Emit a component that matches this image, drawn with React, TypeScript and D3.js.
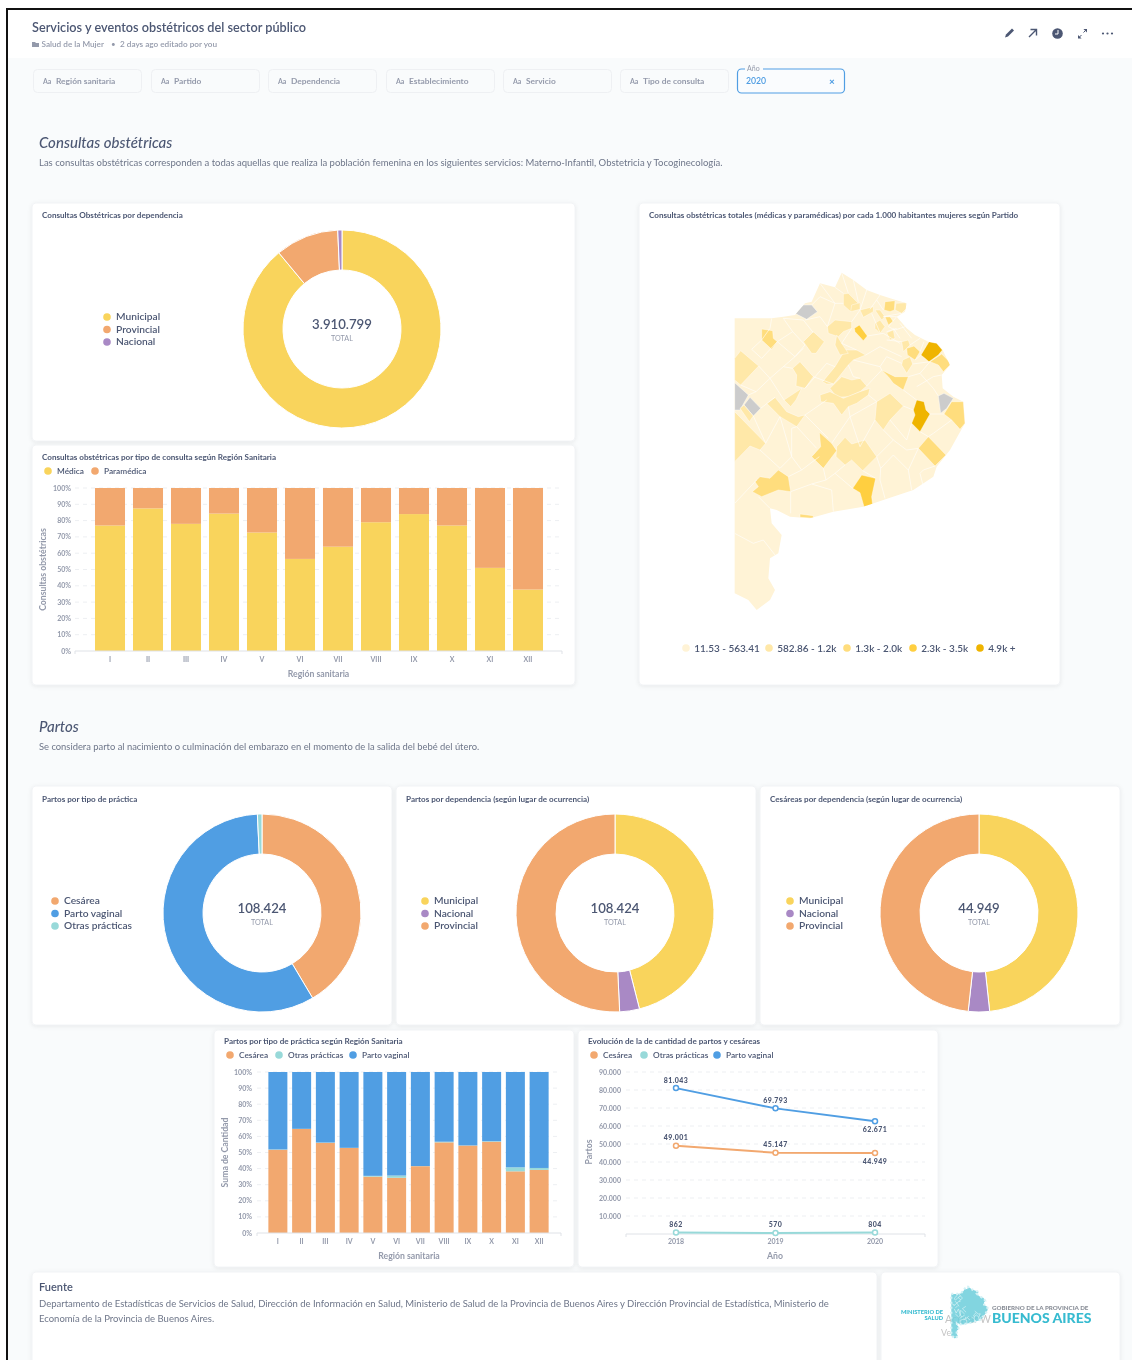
import React from "react";
import * as d3 from "d3";

const FONT = "Lato, 'Open Sans', sans-serif";
const TXT = "#4C5773";
const LIGHT = "#949AAB";
const YEL = "#F9D45C", ORA = "#F2A86F", PUR = "#A989C5", BLU = "#509EE3", TEA = "#98D9D9";
const fmt = d3.formatLocale({ thousands: ".", grouping: [3], decimal: ",", currency: ["", ""] }).format(",d");

// Data
const filterLabels = ["Región sanitaria", "Partido", "Dependencia", "Establecimiento", "Servicio", "Tipo de consulta"];
const regions = ["I", "II", "III", "IV", "V", "VI", "VII", "VIII", "IX", "X", "XI", "XII"];
const pctTicks = d3.range(0, 101, 10);
const medica = [77, 87.5, 78, 84.3, 72.7, 56.5, 64, 79, 84, 77, 51, 37.7];
const cesareaPct = [51.7, 64.6, 56, 52.8, 35, 34.3, 41.5, 56.3, 54.3, 56.7, 38.3, 39.2];
const otrasPct = [0.2, 0.1, 0.2, 0.1, 0.5, 1.4, 0.1, 0.4, 0.1, 0.3, 2.5, 1.2];

const consultasNames = ["Municipal", "Provincial", "Nacional"];
const consultasValues = [3480000, 404000, 26799];
const consultasColors = [YEL, ORA, PUR];
const partosNames = ["Cesárea", "Parto vaginal", "Otras prácticas"];
const partosValues = [44949, 62671, 804];
const partosColors = [ORA, BLU, TEA];
const depNames = ["Municipal", "Nacional", "Provincial"];
const depValues = [49900, 3500, 55024];
const cesDepValues = [21700, 1560, 21689];
const depColors = [YEL, PUR, ORA];

const years = [2018, 2019, 2020];
const lineCesarea = [49001, 45147, 44949];
const lineOtras = [862, 570, 804];
const lineVaginal = [81043, 69793, 62671];
const lineTicks = d3.range(10000, 90001, 10000);

const mapLegend = ["11.53 - 563.41", "582.86 - 1.2k", "1.3k - 2.0k", "2.3k - 3.5k", "4.9k +"];
const mapColors = ["#FFF3D6", "#FFE8A8", "#FFDD7D", "#FFCF40", "#EFB400"];
const GREY = "#CCCCCC";

const provinceOutline = [[44,175],[155,175],[190,170],[225,165],[255,130],[275,125],[300,70],[345,82],[365,38],[400,60],[440,90],[480,105],[520,118],[560,130],[555,155],[530,170],[560,205],[585,225],[625,245],[650,250],[668,270],[675,285],[690,315],[665,345],[668,385],[700,410],[730,425],[735,490],[715,525],[690,570],[650,620],[640,650],[580,690],[490,720],[430,740],[340,755],[270,775],[210,770],[170,750],[150,745],[155,790],[185,825],[175,880],[150,895],[145,955],[165,990],[150,1020],[110,1050],[85,1020],[44,1000]];
const mapGrey = [
  [[225,160],[250,135],[275,135],[292,155],[260,178]],
  [[44,368],[85,405],[60,450],[44,450]],
  [[72,435],[90,412],[122,445],[100,468]],
  [[655,408],[672,400],[700,415],[680,445],[662,460]],
];
const mapClass2 = [
  [[44,295],[62,272],[116,318],[62,375],[44,360]],
  [[44,455],[137,550],[120,570],[90,558],[44,605]],
  [[60,445],[72,435],[100,468],[88,485]],
  [[250,245],[280,215],[313,245],[288,280],[275,280]],
  [[322,200],[345,180],[395,185],[395,205],[370,215],[355,230],[325,220]],
  [[218,325],[240,305],[280,350],[255,385],[228,378],[230,345]],
  [[192,420],[245,385],[228,420],[212,440]],
  [[140,430],[165,412],[200,455],[235,470],[255,465],[230,500],[180,470]],
  [[308,365],[345,320],[375,270],[410,270],[437,285],[400,300],[385,315],[340,372],[320,372]],
  [[350,225],[365,250],[385,280],[360,285],[345,255]],
  [[330,385],[365,350],[395,360],[420,355],[440,378],[420,395],[385,410],[350,412]],
  [[300,405],[330,395],[370,415],[420,395],[450,385],[445,405],[410,430],[385,440],[365,465],[340,430],[302,425]],
  [[350,560],[375,532],[395,552],[435,540],[470,590],[428,632],[395,600],[375,615],[348,590]],
  [[470,425],[510,400],[550,438],[510,480],[490,510],[465,480]],
  [[370,102],[385,100],[415,130],[392,155],[370,135]],
  [[395,135],[420,128],[420,148],[392,155]],
  [[528,130],[558,128],[560,145],[545,160],[525,150]],
  [[420,150],[460,140],[460,155],[430,172]],
  [[465,150],[480,150],[495,170],[485,180]],
  [[465,190],[480,180],[495,200],[480,220],[465,205]],
  [[500,218],[520,210],[525,235],[510,240]],
  [[545,245],[565,240],[570,255],[550,275]],
  [[548,300],[570,290],[578,312],[560,340],[545,315]],
];
const mapClass3 = [
  [[125,207],[158,212],[160,235],[172,245],[155,268],[125,240]],
  [[298,517],[335,550],[350,572],[310,625],[275,590],[302,560]],
  [[595,565],[625,530],[678,585],[645,618]],
  [[672,462],[695,425],[730,425],[735,490],[720,508],[695,480]],
  [[485,330],[525,350],[565,350],[550,390],[520,370],[505,350]],
  [[630,305],[665,282],[688,305],[690,315],[670,335],[655,315]],
  [[560,265],[582,258],[600,275],[585,300],[562,285]],
  [[105,665],[120,650],[150,655],[175,630],[205,650],[212,695],[175,690],[125,710],[97,695],[115,680]],
  [[495,125],[525,122],[523,150],[510,155],[492,150]],
  [[495,170],[510,170],[520,185],[505,195]],
  [[240,762],[280,767],[280,775],[240,772]],
];
const mapClass4 = [
  [[398,685],[425,645],[467,655],[455,710],[458,735],[432,740],[420,698]],
  [[403,205],[418,195],[442,228],[430,242],[405,215]],
];
const mapClass5 = [
  [[603,285],[627,245],[650,250],[667,270],[655,285],[627,305],[615,295]],
  [[590,420],[612,425],[618,450],[630,462],[600,515],[575,490],[585,465],[580,450]],
];
const mapBorders = [
  [[155,175],[150,205],[125,240],[95,268],[125,295],[172,245]],[[172,245],[218,215],[190,175]],[[218,215],[255,255],[225,290],[172,245]],
  [[116,318],[150,355],[108,395],[62,375]],[[150,355],[190,320],[225,290]],[[190,320],[218,325]],[[150,355],[192,420]],
  [[108,395],[85,405]],[[122,445],[165,412]],[[100,468],[137,550]],[[137,550],[180,470]],[[120,570],[180,625],[215,590],[180,470]],
  [[215,590],[215,505],[230,500],[290,565]],[[215,590],[245,630],[205,650]],[[245,630],[298,590]],[[212,695],[275,672],[318,660],[310,625]],
  [[212,695],[212,760]],[[275,672],[335,690],[340,755]],[[318,660],[345,640],[398,685]],[[345,640],[375,615]],[[428,632],[467,655]],
  [[470,590],[520,540],[560,570],[595,565]],[[520,540],[490,510]],[[470,590],[482,625],[520,585],[565,630],[575,690]],[[482,625],[480,660],[495,715]],
  [[565,630],[595,565]],[[600,640],[610,680]],[[645,618],[610,630],[600,640]],
  [[255,465],[320,420]],[[255,465],[325,535]],[[335,550],[390,470],[385,440]],[[390,470],[420,560]],[[445,405],[470,425]],[[390,470],[470,425]],[[465,480],[420,560]],
  [[550,438],[580,450]],[[510,480],[560,540],[575,490]],[[600,515],[625,530]],[[630,462],[672,462]],[[695,480],[640,520],[625,530]],
  [[255,385],[320,310],[345,320]],[[280,350],[340,372]],[[225,290],[250,265]],[[190,175],[250,180],[280,218]],[[255,180],[300,170],[322,200]],
  [[275,135],[300,110],[345,130],[370,130]],[[300,70],[345,130]],[[345,82],[370,100]],[[365,38],[385,100]],[[400,60],[415,125]],[[440,90],[420,150]],[[480,105],[450,148]],[[345,130],[322,200]],
  [[395,185],[420,150]],[[395,205],[365,250],[410,270]],[[442,228],[490,220],[540,250]],[[437,285],[480,260],[545,290]],[[385,315],[400,350],[420,355]],[[400,300],[480,320],[485,330]],[[440,378],[485,330]],
  [[565,350],[600,340],[630,305]],[[550,390],[590,420]],[[600,340],[640,385],[655,408]],[[590,380],[640,350],[665,345]],[[545,310],[500,290],[480,320]],
  [[44,730],[110,660]],[[44,820],[100,850],[130,840],[165,885]],[[115,710],[150,745]],[[490,170],[530,170]],[[500,215],[530,205]],[[520,205],[540,235]],[[540,190],[575,235]],[[470,120],[490,150]],[[455,160],[480,218]],
  [[530,170],[505,200],[525,210],[555,200]],[[500,240],[545,245]],[[570,255],[600,235]],[[600,275],[612,245]],[[585,300],[603,285]],[[578,312],[630,305]],[[545,160],[490,170]],
];

const mx = d3.scaleLinear().domain([0, 780]).range([720, 980]);
const my = d3.scaleLinear().domain([0, 1080]).range([260, 620]);
const mapLine = d3.line<number[]>().x((d) => mx(d[0])).y((d) => my(d[1]));
const closed = (p: number[][]) => mapLine(p) + "Z";

const T = (p: any) => <text fontFamily={FONT} fill={TXT} {...p} />;

function Card({ x, y, w, h }: any) {
  return <rect x={x} y={y} width={w} height={h} rx={4} fill="#fff" stroke="#F2F4F6" style={{ filter: "drop-shadow(0 1px 2px rgba(0,0,0,.07))" }} />;
}

function Legend({ items, x, y, dy = 12.5 }: any) {
  return <g>{items.map((it: any, i: number) => (
    <g key={it.n}>
      <circle cx={x} cy={y + i * dy} r={3.8} fill={it.c} />
      <T x={x + 9} y={y + i * dy + 3.2} fontSize={10.2} fontWeight={600}>{it.n}</T>
    </g>))}</g>;
}

function HLegend({ items, y }: any) {
  return <g>{items.map((it: any) => (
    <g key={it.n}>
      <circle cx={it.x} cy={y} r={3.8} fill={it.c} />
      <T x={it.x + 9} y={y + 3} fontSize={8.3} fontWeight={600}>{it.n}</T>
    </g>))}</g>;
}

function Donut({ cx, cy, values, colors, total, R, r }: any) {
  const pie = d3.pie<number>().sort(null)(values);
  const arc = d3.arc<any>().innerRadius(r).outerRadius(R);
  return <g transform={`translate(${cx},${cy})`}>
    {pie.map((d, i) => <path key={i} d={arc(d) as string} fill={colors[i]} stroke="#fff" strokeWidth={1} />)}
    <T textAnchor="middle" y={0} fontSize={13.2} fontWeight={600}>{fmt(total)}</T>
    <T textAnchor="middle" y={11.5} fontSize={7.2} fill={LIGHT}>TOTAL</T>
  </g>;
}

function StackedBars({ series, colors, xr, top, bottom, axis, tickX, title, xLabelY, labelX, pad }: any) {
  const x = d3.scaleBand<string>().domain(regions).range(xr).paddingInner(pad).paddingOuter(pad / 2);
  const y = d3.scaleLinear().domain([0, 100]).range([bottom, top]);
  const rows = regions.map((r, i) => { const o: any = { r }; series.forEach((s: number[], k: number) => (o[k] = s[i])); return o; });
  const stack = d3.stack<any>().keys(series.map((_: any, k: number) => String(k)))(rows);
  return <g>
    {pctTicks.map((t) => <g key={t}>
      {t > 0 && <line x1={axis[0]} x2={axis[1]} y1={y(t)} y2={y(t)} stroke="#EDEFF2" strokeDasharray="4 4" />}
      <T x={tickX} y={y(t) + 2.5} textAnchor="end" fontSize={7} fill={LIGHT} fontWeight={700}>{t}%</T>
    </g>)}
    {stack.map((s, k) => s.map((d, i) => (
      <rect key={k + "-" + i} x={x(regions[i])} width={x.bandwidth()} y={y(d[1])} height={Math.max(0, y(d[0]) - y(d[1]))} fill={colors[k]} />
    )))}
    <path d={`M${axis[0]},${bottom + 3}V${bottom}H${axis[1]}V${bottom + 3}`} fill="none" stroke="#DFE2E7" />
    {regions.map((r) => <T key={r} x={x(r)! + x.bandwidth() / 2} y={bottom + 10.5} textAnchor="middle" fontSize={7} fill={LIGHT} fontWeight={700}>{r}</T>)}
    <T x={(axis[0] + axis[1]) / 2} y={xLabelY} textAnchor="middle" fontSize={8.7} fill={LIGHT} fontWeight={700}>Región sanitaria</T>
    <T transform={`translate(${labelX},${(top + bottom) / 2}) rotate(-90)`} textAnchor="middle" fontSize={8.7} fill={LIGHT} fontWeight={700}>{title}</T>
  </g>;
}

function LineChart() {
  const x = d3.scalePoint<number>().domain(years).range([676, 875]);
  const y = d3.scaleLinear().domain([0, 90000]).range([1234, 1072]);
  const line = d3.line<number>().x((_, i) => x(years[i])!).y((d) => y(d));
  const series = [
    { v: lineOtras, c: TEA, below: [false, false, false] },
    { v: lineCesarea, c: ORA, below: [false, false, true] },
    { v: lineVaginal, c: BLU, below: [false, false, true] },
  ];
  return <g>
    {lineTicks.map((t) => <g key={t}>
      <line x1={626} x2={925} y1={y(t)} y2={y(t)} stroke="#EDEFF2" strokeDasharray="4 4" />
      <T x={621} y={y(t) + 2.5} textAnchor="end" fontSize={7} fill={LIGHT} fontWeight={700}>{fmt(t)}</T>
    </g>)}
    <path d="M626,1237V1234H925V1237" fill="none" stroke="#DFE2E7" />
    {series.map((s, k) => <g key={k}>
      <path d={line(s.v) as string} fill="none" stroke={s.c} strokeWidth={2} />
      {s.v.map((v, i) => <g key={i}>
        <circle cx={x(years[i])} cy={y(v)} r={2.5} fill="#fff" stroke={s.c} strokeWidth={1.5} />
        <T x={x(years[i])} y={y(v) + (s.below[i] ? 11 : -5.5)} textAnchor="middle" fontSize={7} fontWeight={900} letterSpacing={0.4} stroke="#fff" strokeWidth={2} paintOrder="stroke">{fmt(v)}</T>
      </g>)}
    </g>)}
    {years.map((yr) => <T key={yr} x={x(yr)} y={1243.5} textAnchor="middle" fontSize={7} fill={LIGHT} fontWeight={700}>{yr}</T>)}
    <T x={775} y={1258.5} textAnchor="middle" fontSize={8.7} fill={LIGHT} fontWeight={700}>Año</T>
    <T transform="translate(592,1152) rotate(-90)" textAnchor="middle" fontSize={8.7} fill={LIGHT} fontWeight={700}>Partos</T>
  </g>;
}

function ProvinceMap() {
  const groups: [number[][][], string][] = [
    [mapGrey, GREY], [mapClass2, mapColors[1]], [mapClass3, mapColors[2]], [mapClass4, mapColors[3]], [mapClass5, mapColors[4]],
  ];
  return <g>
    <clipPath id="prov"><path d={closed(provinceOutline)} /></clipPath>
    <path d={closed(provinceOutline)} fill={mapColors[0]} />
    <g clipPath="url(#prov)">
      {groups.map(([polys, c], g) => polys.map((p, i) => <path key={g + "-" + i} d={closed(p)} fill={c} stroke="#fff" strokeOpacity={0.7} strokeWidth={0.6} />))}
      {mapBorders.map((b, i) => <path key={i} d={mapLine(b) as string} fill="none" stroke="#fff" strokeWidth={0.7} strokeOpacity={0.85} />)}
    </g>
  </g>;
}

function Logo() {
  const lx = d3.scaleLinear().domain([0, 780]).range([949, 990]);
  const ly = d3.scaleLinear().domain([0, 1080]).range([1285, 1340]);
  const l = d3.line<number[]>().x((d) => lx(d[0])).y((d) => ly(d[1]));
  return <g>
    <T x={945} y={1323} fontSize={10.5} fill="#C4C4C4">Activar W</T>
    <T x={941} y={1336} fontSize={9} fill="#C4C4C4">Ve</T>
    <path d={l(provinceOutline) + "Z"} fill="#6CCEDB" fillOpacity={0.85} />
    <path d={l(provinceOutline) + "Z"} fill="none" stroke="#D3F1F5" strokeWidth={2.2} strokeDasharray="2 3" />
    {mapBorders.slice(0, 30).map((b, i) => <path key={i} d={l(b) as string} fill="none" stroke="#E4F7F9" strokeWidth={0.6} />)}
    <T x={943} y={1314} textAnchor="end" fontSize={5.7} fontWeight={900} fill="#37BBD0">MINISTERIO DE</T>
    <T x={943} y={1320} textAnchor="end" fontSize={5.7} fontWeight={900} fill="#37BBD0">SALUD</T>
    <T x={992} y={1310} fontSize={6.2} fontWeight={900} fill="#8A8F98">GOBIERNO DE LA PROVINCIA DE</T>
    <T x={992} y={1322.5} fontSize={14} fontWeight={900} fill="#37BBD0">BUENOS AIRES</T>
  </g>;
}

function HeaderIcons() {
  return <g fill="#4C5773" stroke="none">
    <path d="M1005,37.5l1,-3l6,-6l2,2l-6,6z" />
    <path d="M1029,37l7,-7M1030.5,29.5h6v6" fill="none" stroke="#4C5773" strokeWidth={1.4} />
    <circle cx={1057.5} cy={33.5} r={5.3} />
    <path d="M1058,30v4h-3" fill="none" stroke="#fff" strokeWidth={1} />
    <path d="M1078,38.5v-3.6l3.6,3.6zM1087,29v3.6l-3.6,-3.6z" />
    <path d="M1079.5,37l2,-2M1085.5,30.5l-2,2" stroke="#4C5773" strokeWidth={1} />
    {[1103, 1107.5, 1112].map((x) => <circle key={x} cx={x} cy={33.5} r={1.1} />)}
  </g>;
}

export default function App() {
  const filterX = [33, 151, 268, 386, 503, 620];
  return (
    <svg width={1132} height={1360} viewBox="0 0 1132 1360" style={{ position: "absolute", left: 0, top: 0, filter: "blur(0.45px)" }}>
      <rect width={1132} height={1360} fill="#fff" />
      <rect x={8} y={10} width={1124} height={1350} fill="#F9FBFC" />
      <rect x={8} y={10} width={1124} height={48} fill="#fff" />
      <rect x={6} y={8} width={1126} height={2} fill="#111" />
      <rect x={6} y={8} width={2} height={1352} fill="#111" />

      <T x={32} y={31.5} fontSize={12.7} fontWeight={600}>Servicios y eventos obstétricos del sector público</T>
      <path d="M32,42h3l1,1h3v4h-7z" fill="#949AAB" />
      <T x={41.5} y={47} fontSize={8.2} fill={LIGHT} fontWeight={600}>Salud de la Mujer</T>
      <T x={111} y={47} fontSize={8} fill={LIGHT}>•</T>
      <T x={120} y={47} fontSize={8.2} fill={LIGHT} fontWeight={600}>2 days ago editado por you</T>
      <HeaderIcons />

      {filterLabels.map((f, i) => <g key={f}>
        <rect x={filterX[i] + 0.5} y={69.5} width={108} height={23} rx={4} fill="#F9FBFC" stroke="#EEF0F3" />
        <T x={filterX[i] + 10} y={83.5} fontSize={7} fill={LIGHT} fontWeight={700}>Aa</T>
        <T x={filterX[i] + 23} y={84} fontSize={8.4} fill={LIGHT} fontWeight={700}>{f}</T>
      </g>)}
      <rect x={737.5} y={69} width={107} height={24} rx={4} fill="#FAFCFE" stroke={BLU} strokeWidth={1.2} />
      <rect x={745} y={66} width={18} height={5} fill="#F9FBFC" />
      <T x={747} y={71} fontSize={7} fill={LIGHT}>Año</T>
      <T x={746} y={84} fontSize={8.7} fill={BLU} fontWeight={600}>2020</T>
      <T x={832} y={84.5} textAnchor="middle" fontSize={10} fill={BLU} fontWeight={900}>×</T>

      <T x={39} y={148} fontSize={15} fontStyle="italic" fontWeight={500}>Consultas obstétricas</T>
      <T x={39} y={166} fontSize={9.5} fill="#6E7689">Las consultas obstétricas corresponden a todas aquellas que realiza la población femenina en los siguientes servicios: Materno-Infantil, Obstetricia y Tocoginecología.</T>

      <Card x={32} y={203} w={543} h={238} />
      <T x={42} y={218} fontSize={8.1} fontWeight={700}>Consultas Obstétricas por dependencia</T>
      <Legend x={107} y={317} items={consultasNames.map((n, i) => ({ n, c: consultasColors[i] }))} />
      <Donut cx={342} cy={329} R={99} r={59} values={consultasValues} colors={consultasColors} total={d3.sum(consultasValues)} />

      <Card x={32} y={445} w={543} h={240} />
      <T x={42} y={460} fontSize={8.1} fontWeight={700}>Consultas obstétricas por tipo de consulta según Región Sanitaria</T>
      <HLegend y={471} items={[{ n: "Médica", c: YEL, x: 48 }, { n: "Paramédica", c: ORA, x: 95 }]} />
      <StackedBars series={[medica, medica.map((m) => 100 - m)]} colors={[YEL, ORA]} xr={[91, 547]} top={488} bottom={651} axis={[75, 562]} tickX={71} title="Consultas obstétricas" xLabelY={677} labelX={46} pad={0.21} />

      <Card x={639} y={203} w={421} h={482} />
      <T x={649} y={218} fontSize={8.1} fontWeight={700}>Consultas obstétricas totales (médicas y paramédicas) por cada 1.000 habitantes mujeres según Partido</T>
      <ProvinceMap />
      {mapLegend.map((t, i) => {
        const dot = [686, 769, 847, 913, 980][i];
        return <g key={t}>
          <circle cx={dot} cy={648} r={3.8} fill={mapColors[i]} />
          <T x={dot + 8.2} y={651.5} fontSize={10} fontWeight={600}>{t}</T>
        </g>;
      })}

      <T x={39} y={732} fontSize={15} fontStyle="italic" fontWeight={500}>Partos</T>
      <T x={39} y={750} fontSize={9.4} fill="#6E7689">Se considera parto al nacimiento o culminación del embarazo en el momento de la salida del bebé del útero.</T>

      <Card x={32} y={786} w={360} h={239} />
      <T x={42} y={802} fontSize={8.1} fontWeight={700}>Partos por tipo de práctica</T>
      <Legend x={55} y={901} items={partosNames.map((n, i) => ({ n, c: partosColors[i] }))} />
      <Donut cx={262} cy={913} R={99} r={59} values={partosValues} colors={partosColors} total={108424} />

      <Card x={396} y={786} w={360} h={239} />
      <T x={406} y={802} fontSize={8.1} fontWeight={700}>Partos por dependencia (según lugar de ocurrencia)</T>
      <Legend x={425} y={901} items={depNames.map((n, i) => ({ n, c: depColors[i] }))} />
      <Donut cx={615} cy={913} R={99} r={59} values={depValues} colors={depColors} total={d3.sum(depValues)} />

      <Card x={760} y={786} w={360} h={239} />
      <T x={770} y={802} fontSize={8.1} fontWeight={700}>Cesáreas por dependencia (según lugar de ocurrencia)</T>
      <Legend x={790} y={901} items={depNames.map((n, i) => ({ n, c: depColors[i] }))} />
      <Donut cx={979} cy={913} R={99} r={59} values={cesDepValues} colors={depColors} total={d3.sum(cesDepValues)} />

      <Card x={214} y={1030} w={360} h={237} />
      <T x={224} y={1044} fontSize={8.1} fontWeight={700}>Partos por tipo de práctica según Región Sanitaria</T>
      <HLegend y={1055} items={[{ n: "Cesárea", c: ORA, x: 230 }, { n: "Otras prácticas", c: TEA, x: 279 }, { n: "Parto vaginal", c: BLU, x: 353 }]} />
      <StackedBars series={[cesareaPct, otrasPct, cesareaPct.map((c, i) => 100 - c - otrasPct[i])]} colors={[ORA, TEA, BLU]} xr={[266, 551]} top={1072} bottom={1233} axis={[257, 561]} tickX={252} title="Suma de Cantidad" xLabelY={1259} labelX={228} pad={0.2} />

      <Card x={578} y={1030} w={360} h={237} />
      <T x={588} y={1044} fontSize={8.1} fontWeight={700}>Evolución de la de cantidad de partos y cesáreas</T>
      <HLegend y={1055} items={[{ n: "Cesárea", c: ORA, x: 594 }, { n: "Otras prácticas", c: TEA, x: 644 }, { n: "Parto vaginal", c: BLU, x: 717 }]} />
      <LineChart />

      <Card x={32} y={1272} w={845} h={100} />
      <T x={39} y={1291} fontSize={11} fontWeight={600}>Fuente</T>
      <T x={39} y={1307} fontSize={9.5} fill="#6E7689">Departamento de Estadísticas de Servicios de Salud, Dirección de Información en Salud, Ministerio de Salud de la Provincia de Buenos Aires y Dirección Provincial de Estadística, Ministerio de</T>
      <T x={39} y={1322} fontSize={9.5} fill="#6E7689">Economía de la Provincia de Buenos Aires.</T>

      <Card x={881} y={1272} w={239} h={100} />
      <Logo />
    </svg>
  );
}
